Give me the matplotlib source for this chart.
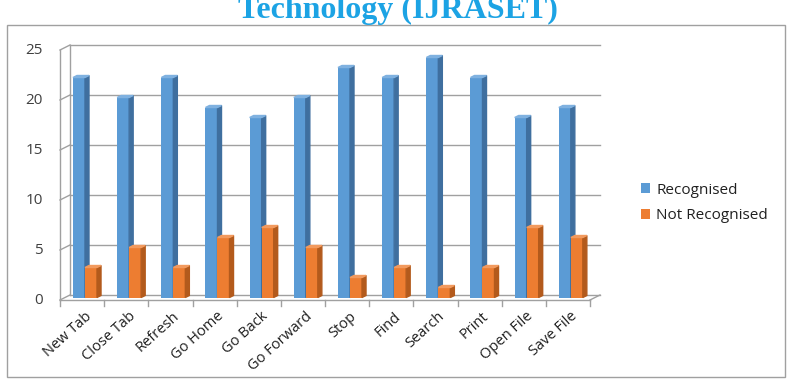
import numpy as np
import matplotlib.pyplot as plt
from matplotlib.patches import Polygon, Rectangle

categories = ['New Tab', 'Close Tab', 'Refresh', 'Go Home', 'Go Back', 'Go Forward',
              'Stop', 'Find', 'Search', 'Print', 'Open File', 'Save File']
recognised = [22, 20, 22, 19, 18, 20, 23, 22, 24, 22, 18, 19]
not_recognised = [3, 5, 3, 6, 7, 5, 2, 3, 1, 3, 7, 6]
yticks = [0, 5, 10, 15, 20, 25]

W, H = 796, 384
fig = plt.figure(figsize=(W / 100, H / 100), dpi=100)
plt.rcParams['font.family'] = ['Open Sans', 'DejaVu Sans']

# axes in pixel terms: front x 60..590, back wall up to 600; y 0 at 300px
ax = fig.add_axes([60 / W, (H - 300) / H, 540 / W, 255 / H])
px = 44.17  # pixels per category
dx, dy = 10 / px, 0.5          # wall depth
bdx, bdy = 4 / px, 0.2         # bar depth
oy = 0.25                      # bar base inside depth
n = len(categories)
ax.set_xlim(-0.5, n - 0.5 + dx)
ax.set_ylim(0, 25.5)
ax.axis('off')

grid = '#a0a0a0'
# back wall gridlines and side wall ticks
for v in yticks:
    ax.plot([-0.5 + dx, n - 0.5 + dx], [v + dy, v + dy], color=grid, lw=1, clip_on=False)
    ax.plot([-0.5, -0.5 + dx], [v, v + dy], color=grid, lw=1, clip_on=False)
    ax.text(-0.5 - 17 / px, v, str(v), ha='right', va='center', fontsize=11, color='#404040')
ax.plot([-0.5, -0.5], [0, 25], color=grid, lw=1, clip_on=False)
ax.plot([-0.5 + dx, -0.5 + dx], [dy, 25 + dy], color=grid, lw=1, clip_on=False)
# floor front edge and right diagonal
ax.plot([-0.5, n - 0.5], [0, 0], color=grid, lw=1, clip_on=False)
ax.plot([n - 0.5, n - 0.5 + dx], [0, dy], color=grid, lw=1, clip_on=False)
for i in range(n + 1):
    ax.plot([i - 0.5, i - 0.5], [0, -0.6], color=grid, lw=1, clip_on=False)

series = [
    (recognised, '#5b9bd5', '#3f6f9f', '#7fb1e0', 'Recognised'),
    (not_recognised, '#ed7d31', '#b35a1c', '#f29a5e', 'Not Recognised'),
]
w = 0.272
offs = [-0.206, 0.066]
for (vals, front, side, top, lab), off in zip(series, offs):
    x = np.arange(n) + off
    ax.bar(x, vals, width=w, bottom=oy, align='edge', color=front, label=lab, zorder=3)
    for xi, v in zip(x, vals):
        t = v + oy
        ax.add_patch(Polygon([(xi + w, oy), (xi + w + bdx, oy + bdy),
                              (xi + w + bdx, t + bdy), (xi + w, t)],
                             closed=True, color=side, zorder=3))
        ax.add_patch(Polygon([(xi, t), (xi + w, t), (xi + w + bdx, t + bdy),
                              (xi + bdx, t + bdy)], closed=True, color=top, zorder=3))

for i, c in enumerate(categories):
    ax.text(i + 0.05, -0.9, c, rotation=42, ha='right', va='top',
            rotation_mode='anchor', fontsize=10.5, color='#202020')

fig.legend(loc='center left', bbox_to_anchor=(627 / W, 1 - 203 / H), frameon=False,
           fontsize=11, handlelength=0.6, handleheight=0.6, handletextpad=0.4,
           labelspacing=0.7, labelcolor='#202020')

# outer chart border
fig.patches.append(Rectangle((7 / W, (H - 377) / H), 778 / W, 352 / H,
                             transform=fig.transFigure, fill=False,
                             edgecolor='#a0a0a0', lw=1))

fig.text(0.5, (H - 18) / H, 'Technology (IJRASET)', ha='center', va='baseline',
         fontsize=23, fontweight='bold', family='Liberation Serif', color='#1ca3e4')

fig.savefig('out.png', dpi=100)
